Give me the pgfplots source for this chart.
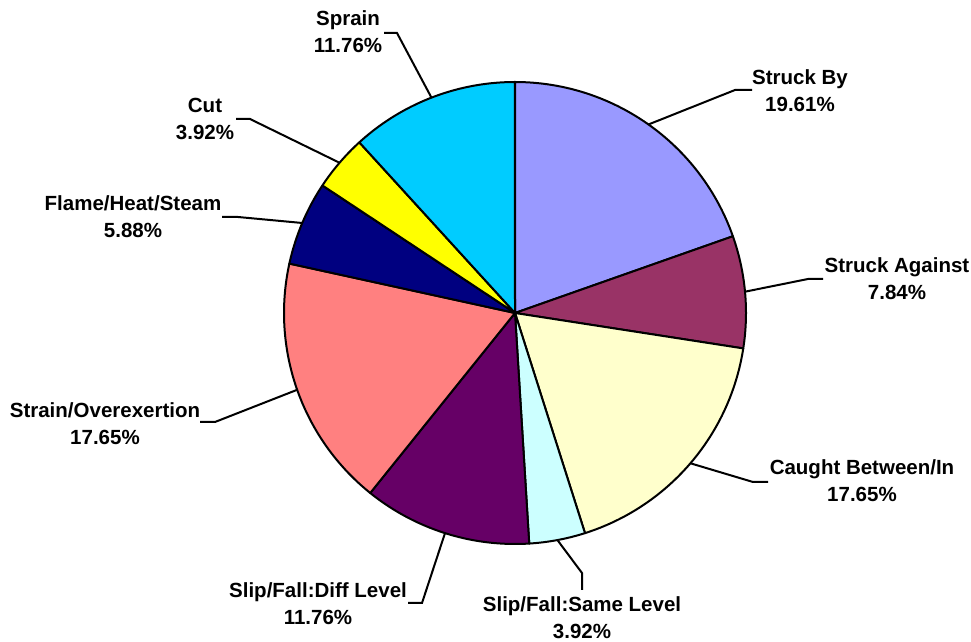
\documentclass[border=0pt]{standalone}
\usepackage{pgfplots}
\usepackage{pgfplotstable}
\pgfplotsset{compat=1.18}
\usepackage{fontspec}
\setmainfont{Liberation Sans}

\definecolor{cA}{HTML}{9999FF}
\definecolor{cB}{HTML}{993366}
\definecolor{cC}{HTML}{FFFFCC}
\definecolor{cD}{HTML}{CCFFFF}
\definecolor{cE}{HTML}{660066}
\definecolor{cF}{HTML}{FF8080}
\definecolor{cG}{HTML}{000080}
\definecolor{cH}{HTML}{FFFF00}
\definecolor{cI}{HTML}{00CCFF}

\tikzset{lbl/.style={font=\fontsize{20.5bp}{27bp}\selectfont\bfseries, align=center, text=black, inner sep=0pt}}

% name, percent, colour, leader elbow (ex,ey), leader end (tx,ty), label centre (lx,ly)
\pgfplotstableread[col sep=comma]{
name,pct,col,ex,ey,tx,ty,lx,ly
Struck By,19.61,cA,735,552,752,552,800,551.5
Struck Against,7.84,cB,808,363,823,363,897,363.5
Caught Between/In,17.65,cC,753,160,768,160,862,161.5
Slip/Fall:Same Level,3.92,cD,582,69,582,52,582,24
Slip/Fall:Diff Level,11.76,cE,422,39,408,39,318,38.5
Strain/Overexertion,17.65,cF,215,220,200,220,105,218.5
Flame/Heat/Steam,5.88,cG,238,425,222,425,133,425.5
Cut,3.92,cH,250,523,236,523,205,523
Sprain,11.76,cI,397,609,384,609,348,610
}\piedata

\begin{document}
\begin{tikzpicture}
\begin{axis}[hide axis, scale only axis, width=971bp, height=642bp,
  xmin=0, xmax=971, ymin=0, ymax=642, clip=false]
\coordinate (BL) at (axis cs:0,0);
\coordinate (TR) at (axis cs:971,642);
\pgfplotstablegetrowsof{\piedata}
\pgfmathtruncatemacro{\N}{\pgfplotsretval-1}
\xdef\cumangle{90}
\foreach \i in {0,...,\N}{
  \pgfplotstablegetelem{\i}{pct}\of\piedata \let\p\pgfplotsretval
  \pgfplotstablegetelem{\i}{col}\of\piedata \let\c\pgfplotsretval
  \pgfplotstablegetelem{\i}{name}\of\piedata \let\nm\pgfplotsretval
  \pgfplotstablegetelem{\i}{ex}\of\piedata \let\ex\pgfplotsretval
  \pgfplotstablegetelem{\i}{ey}\of\piedata \let\ey\pgfplotsretval
  \pgfplotstablegetelem{\i}{tx}\of\piedata \let\tx\pgfplotsretval
  \pgfplotstablegetelem{\i}{ty}\of\piedata \let\ty\pgfplotsretval
  \pgfplotstablegetelem{\i}{lx}\of\piedata \let\lx\pgfplotsretval
  \pgfplotstablegetelem{\i}{ly}\of\piedata \let\ly\pgfplotsretval
  \pgfmathsetmacro{\a}{\cumangle}
  \pgfmathsetmacro{\b}{\cumangle-3.6*\p}
  \pgfmathsetmacro{\m}{(\a+\b)/2}
  \pgfmathsetmacro{\sx}{515+231*cos(\m)}
  \pgfmathsetmacro{\sy}{329+231*sin(\m)}
  \pgfmathprintnumberto[fixed,precision=2,fixed zerofill,assume math mode=true]{\p}{\pstr}
  \xdef\cumangle{\b}
  \edef\temp{%
    \noexpand\addplot[fill=\c, draw=black, line width=2bp, line join=round, domain=\b:\a, samples=80]
      ({515+231*cos(x)},{329+231*sin(x)}) -- (axis cs:515,329) -- cycle;
    \noexpand\draw[black, line width=2bp] (axis cs:\sx,\sy) -- (axis cs:\ex,\ey) -- (axis cs:\tx,\ty);
    \noexpand\node[lbl] at (axis cs:\lx,\ly) {\nm\noexpand\\\pstr\noexpand\%};
  }%
  \temp
}
\end{axis}
\pgfresetboundingbox
\path (BL) rectangle (TR);
\end{tikzpicture}
\end{document}
